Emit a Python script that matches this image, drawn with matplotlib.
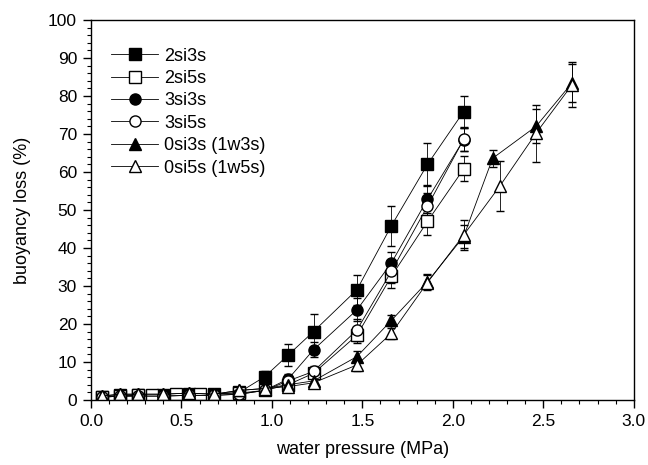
import matplotlib
matplotlib.use("Agg")
import matplotlib.pyplot as plt
from matplotlib.ticker import MultipleLocator, FormatStrFormatter
from matplotlib.lines import Line2D

plt.rcParams['font.family'] = ['Liberation Sans', 'DejaVu Sans']

x_main = [0.06, 0.16, 0.26, 0.40, 0.54, 0.68, 0.82, 0.96, 1.09, 1.23, 1.47, 1.66, 1.86, 2.06]
x_2si5s = [0.06, 0.16, 0.26, 0.34, 0.47, 0.60, 0.82, 0.96, 1.09, 1.23, 1.47, 1.66, 1.86, 2.06]
x_0si3s = [0.06, 0.16, 0.26, 0.40, 0.54, 0.68, 0.82, 0.96, 1.09, 1.23, 1.47, 1.66, 1.86, 2.06, 2.22, 2.46, 2.66]
x_0si5s = [0.06, 0.16, 0.26, 0.40, 0.54, 0.68, 0.82, 0.96, 1.09, 1.23, 1.47, 1.66, 1.86, 2.06, 2.26, 2.46, 2.66]

y_2si3s = [0.8, 1.2, 1.3, 1.3, 1.5, 1.5, 2.0, 6.1, 11.8, 18.0, 29.0, 45.8, 62.0, 75.9]
e_2si3s = [0.5, 0.5, 0.5, 0.5, 0.5, 0.5, 0.8, 1.5, 3.0, 4.5, 4.0, 5.3, 5.5, 4.0]
y_2si5s = [0.8, 1.0, 1.2, 1.4, 1.6, 1.5, 1.8, 2.5, 4.0, 7.0, 17.0, 32.5, 47.0, 60.8]
e_2si5s = [0.5, 0.5, 0.5, 0.6, 0.6, 0.6, 0.6, 0.8, 1.0, 1.5, 2.0, 3.0, 3.5, 3.3]
y_3si3s = [0.7, 1.0, 1.0, 1.0, 1.2, 1.2, 1.5, 2.5, 5.5, 13.2, 23.7, 36.0, 52.8, 68.5]
e_3si3s = [0.5, 0.5, 0.5, 0.5, 0.5, 0.5, 0.6, 0.8, 1.2, 2.0, 3.0, 3.0, 3.5, 3.0]
y_3si5s = [0.7, 1.0, 1.0, 1.0, 1.2, 1.2, 1.5, 2.5, 5.0, 7.5, 18.4, 33.8, 51.0, 68.6]
e_3si5s = [0.5, 0.5, 0.5, 0.5, 0.5, 0.5, 0.6, 0.8, 1.2, 1.5, 3.0, 3.0, 3.5, 3.0]
y_0si3s = [1.0, 1.5, 1.5, 1.5, 1.8, 1.5, 2.5, 3.0, 4.0, 5.0, 11.4, 20.9, 31.1, 43.0, 63.6, 72.0, 83.5]
e_0si3s = [0.5, 0.5, 0.5, 0.5, 0.5, 0.5, 0.8, 1.0, 1.2, 1.2, 1.5, 1.5, 2.0, 3.0, 2.2, 4.5, 5.0]
y_0si5s = [1.0, 1.5, 1.5, 1.5, 1.8, 1.5, 2.5, 3.0, 3.5, 4.5, 9.2, 17.5, 30.9, 43.4, 56.3, 70.2, 83.0]
e_0si5s = [0.5, 0.5, 0.5, 0.5, 0.5, 0.5, 0.8, 1.0, 1.2, 1.2, 1.5, 1.5, 2.0, 4.0, 6.5, 7.5, 6.0]

labels = ["2si3s", "2si5s", "3si3s", "3si5s", "0si3s (1w3s)", "0si5s (1w5s)"]
series = [
    (x_main, y_2si3s, e_2si3s, 's', 'black'),
    (x_2si5s, y_2si5s, e_2si5s, 's', 'white'),
    (x_main, y_3si3s, e_3si3s, 'o', 'black'),
    (x_main, y_3si5s, e_3si5s, 'o', 'white'),
    (x_0si3s, y_0si3s, e_0si3s, '^', 'black'),
    (x_0si5s, y_0si5s, e_0si5s, '^', 'white'),
]

fig = plt.figure(figsize=(6.48, 4.65), dpi=100)
ax = fig.add_axes([0.1404, 0.140, 0.8376, 0.817])

handles = []
for label, (xs, ys, es, m, fc) in zip(labels, series):
    ms = 9 if m == '^' else 8
    ax.errorbar(xs, ys, yerr=es, fmt='-', marker=m, color='black', mfc=fc,
                mec='black', ms=ms, mew=1.0, lw=0.6, elinewidth=0.6,
                capsize=3, capthick=0.6)
    handles.append(Line2D([], [], color='black', lw=0.6, marker=m, mfc=fc,
                          mec='black', ms=ms, mew=1.0, label=label))

ax.set_xlim(0, 3.0)
ax.set_ylim(0, 100)
ax.xaxis.set_major_locator(MultipleLocator(0.5))
ax.xaxis.set_minor_locator(MultipleLocator(0.1))
ax.yaxis.set_major_locator(MultipleLocator(10))
ax.yaxis.set_minor_locator(MultipleLocator(2))
ax.xaxis.set_major_formatter(FormatStrFormatter('%.1f'))
ax.tick_params(which='major', direction='out', length=6, width=1.0, labelsize=12.5,
               top=False, right=False, pad=4)
ax.tick_params(which='minor', direction='out', length=3, width=0.8, top=False, right=False)
for s in ax.spines.values():
    s.set_linewidth(1.0)

ax.set_xlabel("water pressure (MPa)", fontsize=13, labelpad=9)
ax.set_ylabel("buoyancy loss (%)", fontsize=13, labelpad=12)

ax.legend(handles=handles, loc='upper left', bbox_to_anchor=(0.004, 0.975), frameon=False,
          fontsize=13, handlelength=2.6, labelspacing=0.3,
          handletextpad=0.35, borderaxespad=0.6)

fig.savefig("out.png", dpi=100)
